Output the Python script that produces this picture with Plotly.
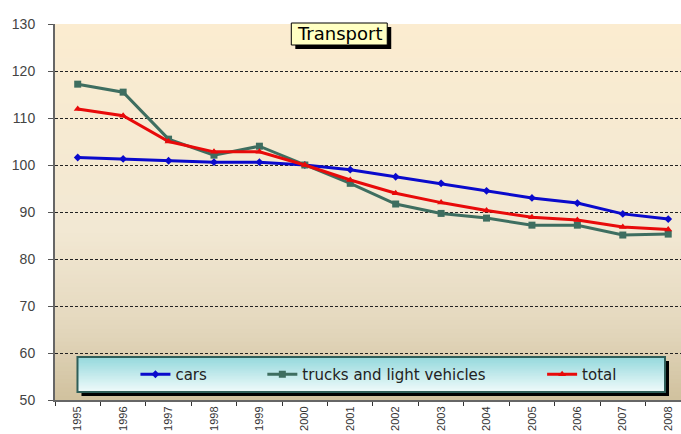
import plotly.graph_objects as go

years = [str(y) for y in range(1995, 2009)]
cars = [101.6, 101.3, 100.9, 100.6, 100.6, 100.0, 99.0, 97.5, 96.1, 94.5, 93.0, 91.9, 89.6, 88.5]
trucks = [117.2, 115.5, 105.5, 102.1, 104.0, 100.0, 96.1, 91.7, 89.7, 88.7, 87.2, 87.2, 85.1, 85.3]
total = [111.9, 110.5, 105.0, 102.8, 102.8, 100.0, 96.8, 94.0, 92.0, 90.3, 88.9, 88.3, 86.8, 86.3]
y_ticks = [50, 60, 70, 80, 90, 100, 110, 120, 130]

W, H = 681, 434
L, R, T, B = 54.5, 0, 24, 34
PW, PH = W - L - R, H - T - B


def px(x):
    return (x - L) / PW


def py(y):
    return (H - B - y) / PH


def lerp(c1, c2, t):
    return tuple(round(a + (b - a) * t) for a, b in zip(c1, c2))


fig = go.Figure()
fig.add_trace(go.Scatter(x=years, y=cars, name="cars", mode="lines+markers",
                         line=dict(color="#0a0acc", width=3),
                         marker=dict(symbol="diamond", size=6, color="#0a0acc"),
                         legend="legend", showlegend=True))
fig.add_trace(go.Scatter(x=years, y=trucks, name="trucks and light vehicles", mode="lines+markers",
                         line=dict(color="#3e6e60", width=3),
                         marker=dict(symbol="square", size=7, color="#3e6e60"),
                         legend="legend2", showlegend=True))
fig.add_trace(go.Scatter(x=years, y=total, name="total", mode="lines+markers",
                         line=dict(color="#e80a0a", width=3),
                         marker=dict(symbol="triangle-up", size=7, color="#e80a0a"),
                         legend="legend3", showlegend=True))

shapes = []
# plot background gradient
stops = [(0.0, (251, 236, 208)), (0.55, (242, 232, 211)), (0.8, (228, 216, 190)), (1.0, (208, 193, 158))]
N = 90
for i in range(N):
    t0, t1 = i / N, (i + 1) / N
    tm = (t0 + t1) / 2  # 0 at top, 1 at bottom
    for (a, ca), (b, cb) in zip(stops[:-1], stops[1:]):
        if a <= tm <= b:
            c = lerp(ca, cb, (tm - a) / (b - a))
            break
    shapes.append(dict(type="rect", xref="paper", yref="paper", x0=0, x1=1,
                       y0=1 - t1 - 0.003, y1=1 - t0, layer="below", line=dict(width=0),
                       fillcolor="rgb(%d,%d,%d)" % c))

# legend box with shadow and gradient
lx0, lx1, ly0, ly1 = 77, 665, 357, 392
shapes.append(dict(type="rect", xref="paper", yref="paper", x0=px(lx0 + 4), x1=px(lx1 + 4),
                   y0=py(ly1 + 4), y1=py(ly0 + 4), layer="above", line=dict(width=0), fillcolor="#000000"))
M = 24
for i in range(M):
    t0, t1 = i / M, (i + 1) / M
    c = lerp((148, 216, 220), (240, 251, 251), (t0 + t1) / 2)
    y0p = ly0 + (ly1 - ly0) * t0
    y1p = min(ly0 + (ly1 - ly0) * t1 + 1.0, ly1)
    shapes.append(dict(type="rect", xref="paper", yref="paper", x0=px(lx0), x1=px(lx1),
                       y0=py(y1p), y1=py(y0p), layer="above", line=dict(width=0),
                       fillcolor="rgb(%d,%d,%d)" % c))
shapes.append(dict(type="rect", xref="paper", yref="paper", x0=px(lx0), x1=px(lx1),
                   y0=py(ly1), y1=py(ly0), layer="above", line=dict(width=2, color="#2f5e58"),
                   fillcolor="rgba(0,0,0,0)"))

# title box with shadow
tx0, tx1, ty0, ty1 = 291, 387, 23, 45
shapes.append(dict(type="rect", xref="paper", yref="paper", x0=px(tx0 + 4), x1=px(tx1 + 4),
                   y0=py(ty1 + 4), y1=py(ty0 + 4), layer="above", line=dict(width=0), fillcolor="#000000"))
shapes.append(dict(type="rect", xref="paper", yref="paper", x0=px(tx0), x1=px(tx1),
                   y0=py(ty1), y1=py(ty0), layer="above", line=dict(width=1, color="#000000"),
                   fillcolor="#ffffc2"))

legend_font = dict(size=15, color="#222222", family="DejaVu Sans, Verdana, sans-serif")
fig.update_layout(
    width=W, height=H,
    margin=dict(l=L, r=R, t=T, b=B),
    paper_bgcolor="white",
    plot_bgcolor="rgba(0,0,0,0)",
    showlegend=True,
    font=dict(family="Liberation Sans, Arial, sans-serif", color="#333333"),
    shapes=shapes,
    annotations=[dict(text="Transport", xref="paper", yref="paper",
                      x=px((tx0 + tx1) / 2), y=py((ty0 + ty1) / 2),
                      xanchor="center", yanchor="middle", showarrow=False,
                      font=dict(size=18, color="#000000", family="DejaVu Sans, Verdana, sans-serif"))],
    xaxis=dict(type="category", range=[-0.5, -0.5 + PW / 45.46], tickson="boundaries",
               ticks="outside", ticklen=4, tickcolor="#333333", tickangle=-90,
               tickfont=dict(size=11, color="#333333"),
               showline=True, linecolor="#666666", linewidth=2, showgrid=False, zeroline=False),
    yaxis=dict(range=[50, 130], tickvals=y_ticks, ticks="outside", ticklen=5,
               tickcolor="#555555", tickfont=dict(size=14, color="#444444"),
               ticklabelstandoff=10,
               showline=True, linecolor="#666666", linewidth=2,
               showgrid=True, gridcolor="#222222", gridwidth=1, griddash="3px,2px",
               zeroline=False),
    legend=dict(x=px(135), y=py(374.5), xanchor="left", yanchor="middle",
                bgcolor="rgba(0,0,0,0)", font=legend_font),
    legend2=dict(x=px(262), y=py(374.5), xanchor="left", yanchor="middle",
                 bgcolor="rgba(0,0,0,0)", font=legend_font),
    legend3=dict(x=px(542), y=py(374.5), xanchor="left", yanchor="middle",
                 bgcolor="rgba(0,0,0,0)", font=legend_font),
)

fig.write_html("out.html", config={"displayModeBar": False},
               post_script="document.body.style.margin='0';")
